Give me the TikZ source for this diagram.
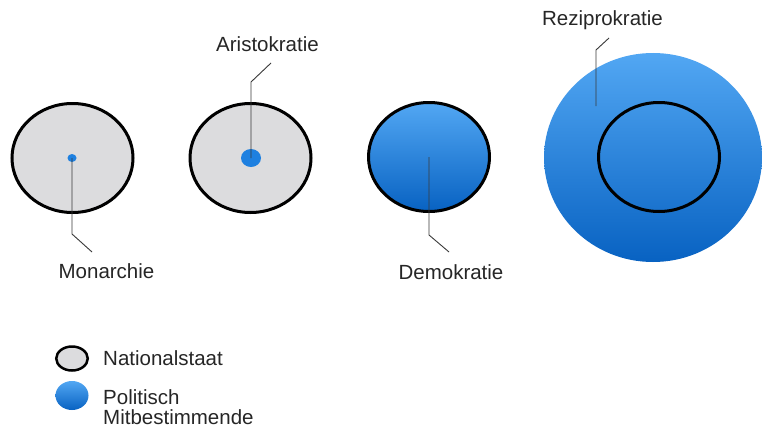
\documentclass[tikz,border=0pt]{standalone}
\usepackage{fontspec}
\setmainfont{Liberation Sans}
\usetikzlibrary{shapes.geometric}
\definecolor{natgray}{HTML}{DCDCDE}
\definecolor{bluetop}{HTML}{52A7F3}
\definecolor{bluebot}{HTML}{0862C2}
\definecolor{bluedot}{HTML}{1E80E0}
\definecolor{leader}{HTML}{3A3A3A}
\tikzset{
  nation/.style={ellipse, draw=black, line width=3pt, fill=natgray, inner sep=0pt,
    minimum width=121pt, minimum height=109pt},
  demo/.style={ellipse, draw=black, line width=3pt, top color=bluetop, bottom color=bluebot, inner sep=0pt,
    minimum width=121pt, minimum height=109pt},
  ring/.style={ellipse, draw=black, line width=3pt, inner sep=0pt,
    minimum width=121pt, minimum height=109pt},
  bigblue/.style={ellipse, draw=none, top color=bluetop, bottom color=bluebot, inner sep=0pt,
    minimum width=218pt, minimum height=209pt},
  dotblue/.style={ellipse, fill=bluedot, draw=none, inner sep=0pt},
  lbl/.style={font=\fontsize{20.5}{24}\selectfont, anchor=base, inner sep=0pt, text=black!85},
  leg/.style={font=\fontsize{20.5}{24}\selectfont, anchor=base west, inner sep=0pt, text=black!85},
  leaderline/.style={draw=leader, line width=0.9pt},
}
\begin{document}
\begin{tikzpicture}[x=1pt,y=-1pt]
\useasboundingbox[fill=white] (0,0) rectangle (762,428);
% Monarchie
\node[nation] (mon) at (72.5,158) {};
\node[dotblue, minimum width=9pt, minimum height=8pt] (mdot) at (72,158) {};
\coordinate (mbend) at (72,234);
\coordinate (mend) at (92,252);
\draw[leaderline] (mdot.center) -- (mbend) -- (mend);
\node[lbl] (monl) at (106.5,278) {Monarchie};
% Aristokratie
\node[nation] (ari) at (250.5,158) {};
\node[dotblue, minimum width=20pt, minimum height=18pt] (adot) at (251,158) {};
\coordinate (abend) at (251,82);
\coordinate (aend) at (271,63);
\draw[leaderline] (adot.center) -- (abend) -- (aend);
\node[lbl] (aril) at (267.5,52) {Aristokratie};
% Demokratie
\node[demo] (dem) at (429,157) {};
\coordinate (dbend) at (429,235);
\coordinate (dend) at (449,252);
\draw[leaderline] (dem.center) -- (dbend) -- (dend);
\node[lbl] (deml) at (451,279) {Demokratie};
% Reziprokratie
\node[bigblue] (rez) at (653,157.5) {};
\node[ring] (rezin) at (659,157) {};
\coordinate (rstart) at (596,106);
\coordinate (rbend) at (596,50);
\coordinate (rend) at (609,38);
\draw[leaderline] (rstart) -- (rbend) -- (rend);
\node[lbl] (rezl) at (602.5,26) {Reziprokratie};
% Legend
\node[ellipse, draw=black, line width=2.5pt, fill=natgray, inner sep=0pt,
  minimum width=31.5pt, minimum height=24pt] (leg1) at (72,358.5) {};
\node[leg] (leg1t) at (103,365) {Nationalstaat};
\node[ellipse, top color=bluetop, bottom color=bluebot, inner sep=0pt,
  minimum width=33pt, minimum height=29pt] (leg2) at (72,395.5) {};
\node[leg] (leg2t) at (103,404) {Politisch};
\node[leg] (leg2u) at (103,424) {Mitbestimmende};
\end{tikzpicture}
\end{document}
